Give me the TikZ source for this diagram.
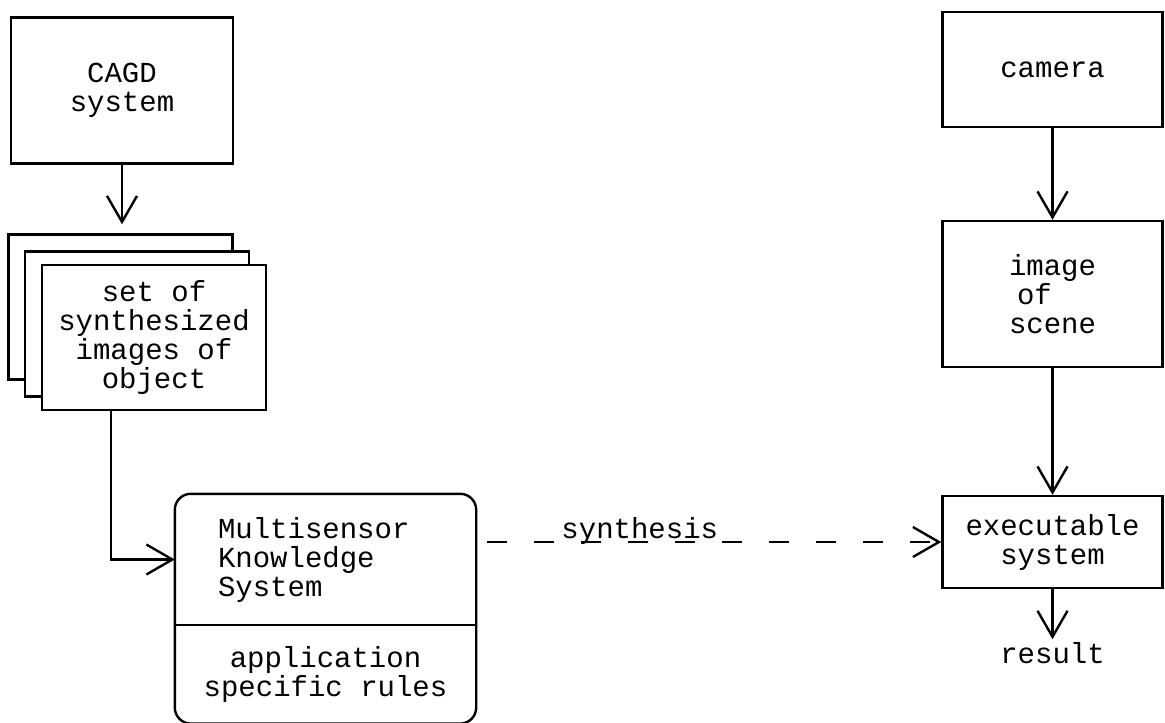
\documentclass[tikz,border=0pt]{standalone}
\usepackage{fontspec}
\setmonofont{Liberation Mono}
\usetikzlibrary{arrows.meta,positioning,fit}

\begin{document}
\begin{tikzpicture}[x=0.5pt, y=-0.5pt, line width=1.2pt,
            every node/.style={font=\ttfamily\fontsize{14.5pt}{14.5pt}\selectfont, align=center},
            box/.style={draw, minimum width=111pt, minimum height=73pt},
            page/.style={draw, fill=white, minimum width=112pt, minimum height=72.5pt},
            part/.style={minimum width=149.5pt, inner sep=0pt},
            arr/.style={-{Straight Barb[length=13pt,width=15pt]}}]
                \useasboundingbox (0,0) rectangle (1165,722);
                % left column
                \node[box] (cagd) at (122, 90.5) {CAGD\\system};
                \node[page] (imgs3) at (120.5, 307) {};
                \node[page] (imgs2) at (137, 324) {};
                \node[page] (imgs) at (154, 337.5) {set of\\synthesized\\images of\\object};
                % knowledge system
                \node[part, align=left, text width=107.5pt, inner xsep=21pt, minimum height=64.5pt] (mkstop) at (325.5, 559.5) {Multisensor\\Knowledge\\System};
                \node[part, minimum height=48pt, below=0pt of mkstop] (mksrules) {application\\specific rules};
                \node[draw, rounded corners=8pt, inner sep=0pt, fit=(mkstop)(mksrules)] (mks) {};
                \draw (mkstop.south west) -- (mkstop.south east);
                % right column
                \node[box, minimum width=110pt, minimum height=57.5pt] (camera) at (1052.5, 69.5) {camera};
                \node[box, minimum width=110pt, align=left] (scene) at (1052.5, 294) {image\\\hspace{4pt}of\\scene};
                \node[box, minimum width=110pt, minimum height=46pt] (exec) at (1052.5, 542) {executable\\system};
                \node[below=25pt of exec, inner sep=1pt] (result) {result};
                % connectors
                \draw[arr, shorten >=4.5pt] (cagd.south) -- (cagd.south |- imgs3.north);
                \draw[arr] ([xshift=35pt]imgs.south west) |- (mkstop.west);
                \draw[arr] (camera.south) -- (scene.north);
                \draw[arr] (scene.south) -- (exec.north);
                \draw[arr] (exec.south) -- (result.north);
                \draw[arr, dash pattern=on 10pt off 13.5pt, shorten <=5pt] (mks.east |- exec.west) -- node[pos=0.35, anchor=base, yshift=2pt] (synth) {synthesis} (exec.west);
        \end{tikzpicture}
\end{document}
